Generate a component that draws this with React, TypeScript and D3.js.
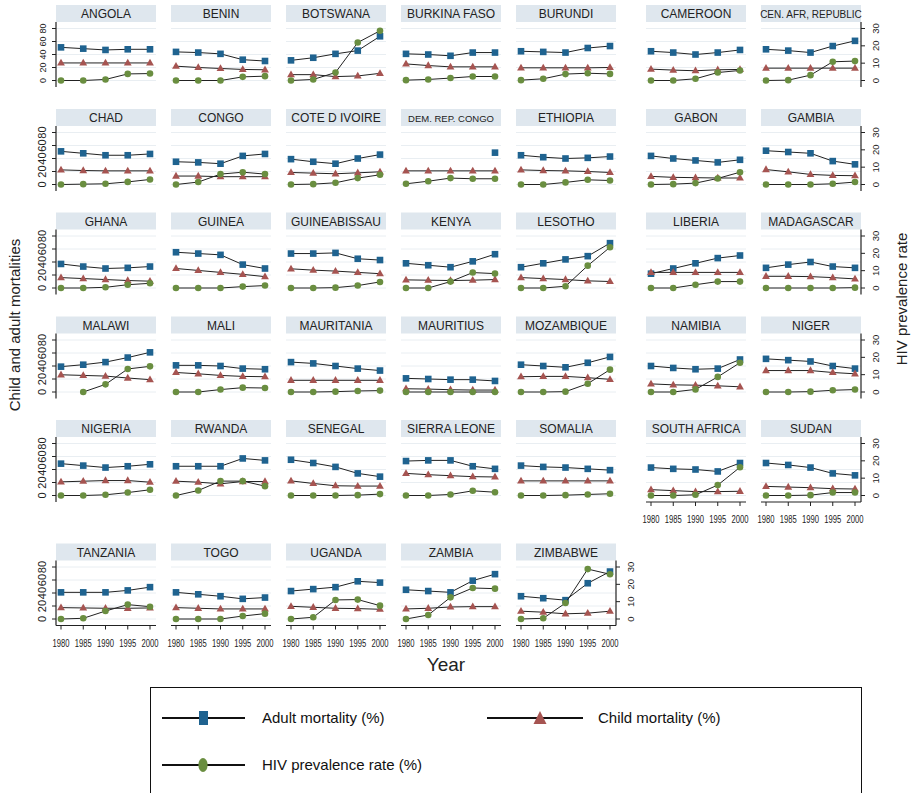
import React from "react";
import { scaleLinear, line } from "d3";

// values, 1980-2000 in 5 year steps
const years = [1980, 1985, 1990, 1995, 2000];

const countries = [
  "ANGOLA", "BENIN", "BOTSWANA", "BURKINA FASO", "BURUNDI", "CAMEROON", "CEN. AFR, REPUBLIC",
  "CHAD", "CONGO", "COTE D IVOIRE", "DEM. REP. CONGO", "ETHIOPIA", "GABON", "GAMBIA",
  "GHANA", "GUINEA", "GUINEABISSAU", "KENYA", "LESOTHO", "LIBERIA", "MADAGASCAR",
  "MALAWI", "MALI", "MAURITANIA", "MAURITIUS", "MOZAMBIQUE", "NAMIBIA", "NIGER",
  "NIGERIA", "RWANDA", "SENEGAL", "SIERRA LEONE", "SOMALIA", "SOUTH AFRICA", "SUDAN",
  "TANZANIA", "TOGO", "UGANDA", "ZAMBIA", "ZIMBABWE",
];

// left axis (%)
const adultMortality: (number | null)[][] = [
  [51, 49, 47, 48, 48], [44, 43, 41, 32, 30], [31, 35, 41, 46, 68], [41, 40, 38, 43, 43],
  [45, 44, 43, 50, 53], [45, 43, 40, 43, 47], [48, 46, 43, 53, 61],
  [51, 48, 45, 45, 47], [35, 34, 32, 44, 47], [39, 35, 32, 40, 46], [null, null, null, null, 49],
  [45, 42, 40, 41, 43], [44, 40, 37, 34, 38], [52, 50, 48, 36, 31],
  [37, 33, 30, 31, 33], [55, 53, 51, 36, 30], [53, 53, 54, 45, 43], [38, 35, 32, 41, 52],
  [32, 38, 44, 49, 69], [22, 30, 38, 46, 50], [31, 36, 40, 33, 31],
  [39, 42, 46, 53, 61], [41, 41, 40, 36, 35], [46, 44, 40, 36, 33], [21, 20, 19, 19, 17],
  [42, 40, 38, 45, 54], [40, 37, 35, 36, 50], [51, 49, 47, 40, 36],
  [49, 46, 43, 45, 48], [45, 45, 45, 57, 54], [55, 50, 44, 34, 29], [53, 54, 54, 45, 41],
  [46, 44, 43, 41, 39], [43, 41, 40, 37, 50], [50, 47, 43, 34, 31],
  [41, 41, 41, 44, 49], [41, 38, 35, 31, 33], [43, 46, 49, 58, 56], [45, 43, 41, 59, 69],
  [35, 32, 29, 55, 73],
];

const childMortality: (number | null)[][] = [
  [27, 27, 27, 27, 27], [22, 20, 18.5, 17, 16.5], [9, 9, 6, 7, 11], [25.5, 23, 21, 21, 21],
  [19.5, 19.5, 19.5, 19.5, 20], [17.5, 16, 15, 16.5, 17], [19, 19, 19, 19, 19],
  [22.5, 21.5, 21, 21, 21], [13, 13, 12, 12, 12], [18.5, 17.5, 16.5, 18, 19.5], [21, 21, 21, 21, 21],
  [22.5, 21.5, 21, 20, 18.5], [12.5, 11, 10.5, 10, 10], [23, 19.5, 15.5, 14, 13.5],
  [16, 14.5, 13, 11.5, 10.5], [30, 27, 24, 21, 17.5], [29.5, 27.5, 26, 24, 22], [12.5, 12, 11.5, 12, 13],
  [16, 14.5, 13, 11, 10], [24, 24, 24, 24, 24], [18, 18, 17.5, 16, 14],
  [26.5, 25.5, 24.5, 21.5, 19], [30, 28, 25.5, 24, 23.5], [18, 18, 18, 18, 18], [5, 4.5, 3.5, 3, 3],
  [23.5, 24, 24, 22, 19.5], [12.5, 11, 10.5, 9.5, 8], [33, 33, 33, 30, 28],
  [21, 22, 23, 23, 20.5], [22, 20.5, 18, 21.5, 21.5], [22.5, 18.5, 15, 14.5, 14.5], [34, 32, 30.5, 29, 28.5],
  [22.5, 22.5, 22.5, 22.5, 22.5], [9, 7.5, 6, 6, 6.5], [14, 13, 12, 10.5, 10],
  [17.5, 17, 16.5, 16.5, 17], [17.5, 16.5, 15.5, 15.5, 15.5], [19.5, 18, 16.5, 16, 15], [15.5, 16.5, 18.5, 19, 19],
  [12, 10.5, 8, 9, 12],
];

// right axis (%)
const hivPrevalence: (number | null)[][] = [
  [0, 0, 0.6, 3.8, 4], [0, 0, 0, 2.1, 2.5], [0, 0.6, 4.6, 21.9, 28.7], [0.2, 0.6, 1.4, 2.3, 2.3],
  [0.2, 1, 3.7, 4.2, 3.8], [0, 0, 1, 4.6, 5.8], [0, 0.2, 3.1, 10.8, 11.2],
  [0, 0.2, 0.4, 1.5, 2.9], [0, 1.4, 6, 7.1, 6], [0, 0.2, 1, 3.7, 5.6], [0.4, 1.9, 3.7, 3.3, 3.3],
  [0, 0, 1.2, 2.7, 2.3], [0, 0.2, 0.8, 3.5, 7.1], [0, 0, 0, 0.4, 1.4],
  [0, 0, 0.4, 1.9, 2.7], [0, 0, 0, 0.8, 1.4], [0, 0, 0.2, 1.4, 3.5], [0, 0, 3.7, 8.9, 8.3],
  [0, 0, 1, 12.9, 23.5], [0, 0, 1.9, 3.7, 3.7], [0, 0, 0, 0, 0.2],
  [null, 0, 4.4, 13.3, 14.8], [0, 0, 1.4, 2.5, 2.3], [0, 0, 0.2, 0.6, 0.8], [0, 0, 0, 0, 0],
  [0, 0, 0.2, 4.8, 12.9], [0, 0, 1.5, 8.7, 16.9], [0, 0, 0.2, 1, 1.4],
  [0, 0, 0.4, 1.7, 3.3], [0, 2.9, 8.3, 8.3, 5.4], [0, 0, 0, 0.2, 0.8], [0, 0, 0.6, 2.7, 1.9],
  [0, 0, 0.2, 0.6, 1], [0, 0, 0.4, 6, 16.3], [0, 0, 0.2, 1.7, 1.7],
  [0, 0.4, 4.6, 8.3, 7.1], [0, 0, 0, 1.7, 3.1], [0, 1, 11, 11.2, 7.7], [0, 2.3, 12.5, 17.9, 17.5],
  [0, 0.4, 9.2, 28.8, 25.8],
];

const leftTicks = [0, 20, 40, 60, 80];
const rightTicks = [0, 10, 20, 30];

const BLUE = "#1f6390";
const RED = "#a65451";
const GREEN = "#6a8e40";
const FONT = "'Liberation Sans', Arial, Helvetica, sans-serif";

const colX = [56, 171, 286, 401, 516, 646, 761];
const rowTop = [5, 109, 212.5, 316.5, 420, 543.5];
const PW = 100;

function Marker({ kind, x, y, color }) {
  if (kind === "square") return <rect x={x - 3.3} y={y - 3.3} width={6.6} height={6.6} fill={color} />;
  if (kind === "triangle")
    return <path d={`M${x},${y - 4.2}L${x + 3.9},${y + 2.6}L${x - 3.9},${y + 2.6}Z`} fill={color} />;
  return <circle cx={x} cy={y} r={3.3} fill={color} />;
}

function Panel({ i }) {
  const row = i < 35 ? Math.floor(i / 7) : 5;
  const col = i < 35 ? i % 7 : i - 35;
  const x0 = colX[col];
  const top = rowTop[row];
  const name = countries[i];

  const xS = scaleLinear().domain([1980, 2000]).range([x0 + 5, x0 + 94]);
  const yL = scaleLinear().domain([-10, 90]).range([top + 82, top + 17]);
  const yR = scaleLinear().domain([-3.75, 33.75]).range([top + 82, top + 17]);

  const leftAxis = col === 0;
  const rightAxis = (row < 5 && col === 6) || (row === 5 && col === 4);
  const bottomAxis = row === 5 || (row === 4 && col >= 5);

  const series = [
    { vals: adultMortality[i], y: yL, kind: "square", color: BLUE },
    { vals: childMortality[i], y: yL, kind: "triangle", color: RED },
    { vals: hivPrevalence[i], y: yR, kind: "circle", color: GREEN },
  ];

  let titleSize = 12;
  if (name === "CEN. AFR, REPUBLIC") titleSize = 10;
  if (name === "DEM. REP. CONGO") titleSize = 9.5;
  const leftFont = row === 0 ? 9 : 11;

  return (
    <g>
      <rect x={x0} y={top} width={PW} height={17} fill="#dfe7ee" />
      <text x={x0 + PW / 2} y={top + 13} textAnchor="middle" fontSize={titleSize} fill="#222">
        {name}
      </text>
      {leftTicks.map((t) => (
        <line key={t} x1={x0} x2={x0 + PW} y1={yL(t)} y2={yL(t)} stroke="#e9eef2" strokeWidth={1} />
      ))}
      {series.map((s, k) => {
        const gen = line<number | null>()
          .defined((d) => d != null)
          .x((d, j) => xS(years[j]))
          .y((d) => s.y(d as number));
        return (
          <g key={k}>
            <path d={gen(s.vals) || ""} fill="none" stroke="#222" strokeWidth={1} />
            {s.vals.map((v, j) =>
              v == null ? null : <Marker key={j} kind={s.kind} x={xS(years[j])} y={s.y(v)} color={s.color} />
            )}
          </g>
        );
      })}
      {leftAxis && (
        <g>
          <line x1={x0} x2={x0} y1={top + 17} y2={top + 82} stroke="#222" strokeWidth={1.2} />
          {leftTicks.map((t) => (
            <g key={t}>
              <line x1={x0 - 4} x2={x0} y1={yL(t)} y2={yL(t)} stroke="#222" />
              <text
                transform={`translate(${x0 - 10.5},${yL(t)}) rotate(-90)`}
                textAnchor="middle"
                fontSize={leftFont}
                fill="#222"
              >
                {t}
              </text>
            </g>
          ))}
        </g>
      )}
      {rightAxis && (
        <g>
          <line x1={x0 + PW} x2={x0 + PW} y1={top + 17} y2={top + 82} stroke="#222" strokeWidth={1.2} />
          {rightTicks.map((t) => (
            <g key={t}>
              <line x1={x0 + PW} x2={x0 + PW + 4} y1={yR(t)} y2={yR(t)} stroke="#222" />
              <text
                transform={`translate(${x0 + PW + 17.5},${yR(t)}) rotate(-90)`}
                textAnchor="middle"
                fontSize={9.5}
                fill="#222"
              >
                {t}
              </text>
            </g>
          ))}
        </g>
      )}
      {bottomAxis && (
        <g>
          <line x1={x0} x2={x0 + PW} y1={top + 82} y2={top + 82} stroke="#222" strokeWidth={1.2} />
          {years.map((yr) => (
            <g key={yr}>
              <line x1={xS(yr)} x2={xS(yr)} y1={top + 82} y2={top + 86} stroke="#222" />
              <text
                x={xS(yr)}
                y={top + 103}
                textAnchor="middle"
                fontSize={10}
                textLength={17}
                lengthAdjust="spacingAndGlyphs"
                fill="#222"
              >
                {yr}
              </text>
            </g>
          ))}
        </g>
      )}
    </g>
  );
}

export default function App() {
  return (
    <div style={{ position: "absolute", left: 0, top: 0 }}>
      <svg width={911} height={793} style={{ display: "block", background: "#fff", fontFamily: FONT }}>
        {countries.map((c, i) => (
          <Panel key={c} i={i} />
        ))}
        <text transform="translate(20,325) rotate(-90)" textAnchor="middle" fontSize={15} fill="#222">
          Child and adult mortalities
        </text>
        <text transform="translate(907,299) rotate(-90)" textAnchor="middle" fontSize={15} fill="#222">
          HIV prevalence rate
        </text>
        <text x={446} y={671} textAnchor="middle" fontSize={19} fill="#222">
          Year
        </text>

        <rect x={150.5} y={687.5} width={711} height={120} fill="#fff" stroke="#111" strokeWidth={1} />
        <line x1={162} x2={245} y1={718} y2={718} stroke="#111" strokeWidth={2} />
        <rect x={199} y={711} width={9} height={14} fill={BLUE} />
        <text x={262} y={723} fontSize={15} fill="#111">Adult mortality (%)</text>
        <line x1={487} x2={583} y1={718} y2={718} stroke="#111" strokeWidth={2} />
        <path d="M540,711L546.5,724L533.5,724Z" fill={RED} />
        <text x={598} y={723} fontSize={15} fill="#111">Child mortality (%)</text>
        <line x1={162} x2={245} y1={765} y2={765} stroke="#111" strokeWidth={2} />
        <ellipse cx={203} cy={765} rx={4.6} ry={7} fill={GREEN} />
        <text x={262} y={770} fontSize={15} fill="#111">HIV prevalence rate (%)</text>
      </svg>
    </div>
  );
}
